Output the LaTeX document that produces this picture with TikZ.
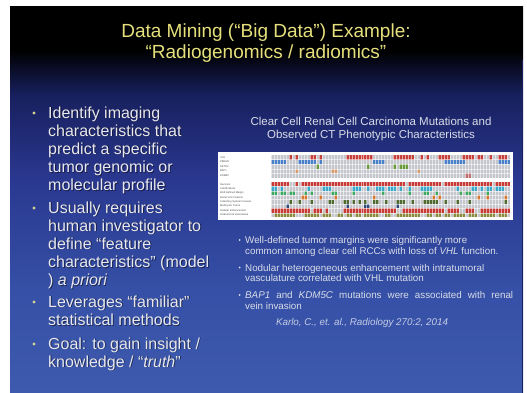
\documentclass[tikz,border=0pt]{standalone}
\usepackage{fontspec}
\setmainfont{Liberation Sans}

% slide background colours, top to bottom
\definecolor{bgA}{HTML}{000000}
\definecolor{bgB}{HTML}{18205E}
\definecolor{bgC}{HTML}{2A3890}
\definecolor{bgD}{HTML}{3550A6}
\definecolor{bgE}{HTML}{3E5AAE}
\definecolor{titlecol}{HTML}{E6E07C}
\definecolor{bodycol}{HTML}{E8E8EE}
\definecolor{smallcol}{HTML}{D8DCE8}
\definecolor{citecol}{HTML}{C4CCE6}
\definecolor{dotcol}{HTML}{D8D490}
% heat-map colours
\definecolor{cellgrey}{HTML}{C4C6CC}
\definecolor{mutred}{HTML}{C8403A}
\definecolor{mutblue}{HTML}{4A80C8}
\definecolor{mutgreen}{HTML}{6A9A3A}
\definecolor{mutorange}{HTML}{D89A6A}
\definecolor{mutrose}{HTML}{C07070}
\definecolor{featred}{HTML}{C83A36}
\definecolor{featteal}{HTML}{3AA8C8}
\definecolor{featgreen}{HTML}{3CA860}
\definecolor{featorange}{HTML}{D8782E}
\definecolor{featolive}{HTML}{4E6A2E}
\definecolor{featnavy}{HTML}{2E4A78}
\definecolor{featkhaki}{HTML}{8C8A3E}

\pgfdeclareverticalshading{slideshade}{100bp}{%
  color(0bp)=(bgE); color(25bp)=(bgE); color(38.3bp)=(bgD);
  color(52.6bp)=(bgC); color(63.6bp)=(bgB); color(69.4bp)=(bgA);
  color(75bp)=(bgA); color(100bp)=(bgA)}

% text with a soft drop shadow: name, position, style, text
\newcommand\shadowtext[4]{%
  \node[#3, text=black, opacity=.5] at ([shift={(0.9,0.9)}]#2) {#4};
  \node[#3] (#1) at (#2) {#4};}

\begin{document}
\begin{tikzpicture}[x=1pt,y=-1pt,
  titletext/.style={inner sep=0pt, anchor=base, text=titlecol,
    font=\fontsize{19}{22}\selectfont},
  bodytext/.style={inner sep=0pt, anchor=base west, text=bodycol,
    font=\fontsize{16}{18}\selectfont},
  headtext/.style={inner sep=0pt, anchor=base, text=smallcol,
    font=\fontsize{11.5}{13}\selectfont},
  smalltext/.style={inner sep=0pt, anchor=base west, text=smallcol,
    font=\fontsize{9.8}{11}\selectfont},
  citetext/.style={inner sep=0pt, anchor=base, text=citecol,
    font=\fontsize{9.8}{11}\selectfont\itshape},
  tablabel/.style={inner sep=0pt, anchor=west, text=black!70,
    font=\fontsize{2.6}{3}\selectfont},
  bigdot/.style={fill=dotcol},
  smalldot/.style={fill=smallcol},
  gridline/.style={draw=white, draw opacity=.55, line width=.25pt}]

\useasboundingbox (0,0) rectangle (527,393);
\fill[white] (0,0) rectangle (527,393);
\shade[shading=slideshade] (10,7) rectangle (523,393);
\fill[bgB] (521.5,60) rectangle (523,393);

% title
\shadowtext{title1}{266,38}{titletext}{Data Mining (“Big Data”) Example:}
\shadowtext{title2}{266,59}{titletext}{“Radiogenomics / radiomics”}

% left bullet list
\foreach \y in {113,208,302,344} \fill[bigdot] (34,\y) circle (1.6);
\shadowtext{l1}{48,118}{bodytext}{Identify imaging}
\shadowtext{l2}{48,136}{bodytext}{characteristics that}
\shadowtext{l3}{48,154}{bodytext}{predict a specific}
\shadowtext{l4}{48,172.3}{bodytext}{tumor genomic or}
\shadowtext{l5}{48,190.5}{bodytext}{molecular profile}
\shadowtext{l6}{48,213}{bodytext}{Usually requires}
\shadowtext{l7}{48,231}{bodytext}{human investigator to}
\shadowtext{l8}{48,249}{bodytext}{define “feature}
\shadowtext{l9}{48,267.2}{bodytext}{characteristics” (model}
\shadowtext{l10}{48,285.5}{bodytext}{) \textit{a priori}}
\shadowtext{l11}{48,307}{bodytext}{Leverages “familiar”}
\shadowtext{l12}{48,325.5}{bodytext}{statistical methods}
\shadowtext{l13}{48,349}{bodytext}{Goal: to gain insight /}
\shadowtext{l14}{48,367}{bodytext}{knowledge / “\textit{truth}”}

% heat-map caption
\node[headtext] (head1) at (371,125.5) {Clear Cell Renal Cell Carcinoma Mutations and};
\node[headtext] (head2) at (371,138.5) {Observed CT Phenotypic Characteristics};

% heat-map: mutations (upper block) and CT features (lower block)
\fill[white] (218,152) rectangle (513,220);
\fill[cellgrey] (271,155) rectangle (510,178);
\fill[cellgrey] (271,182) rectangle (510,217);
\pgfmathsetseed{4242}
\foreach \r/\cl/\p/\q in {0/mutred/22/72,1/mutblue/12/55,2/mutgreen/8/30,
                          3/mutorange/6/20,4/mutrose/5/20}{
  \gdef\prevcell{0}
  \foreach \c in {0,...,79}{
    \pgfmathrandominteger{\rnd}{1}{100}
    \ifnum\prevcell=1 \edef\thr{\q}\else\edef\thr{\p}\fi
    \ifnum\rnd<\thr\relax
      \fill[\cl] ({271+\c*2.9875},{155+\r*4.6}) rectangle ++(2.9875,4.6);
      \gdef\prevcell{1}
    \else\gdef\prevcell{0}\fi
  }
}
\foreach \r/\cl/\p/\q in {0/featred/70/95,1/featteal/20/40,2/featgreen/25/40,
                          3/featorange/12/30,4/featolive/25/40,5/featnavy/8/20,
                          6/featred/40/85,7/featkhaki/35/75}{
  \gdef\prevcell{0}
  \foreach \c in {0,...,79}{
    \pgfmathrandominteger{\rnd}{1}{100}
    \ifnum\prevcell=1 \edef\thr{\q}\else\edef\thr{\p}\fi
    \ifnum\rnd<\thr\relax
      \fill[\cl] ({271+\c*2.9875},{182+\r*4.375}) rectangle ++(2.9875,4.375);
      \gdef\prevcell{1}
    \else\gdef\prevcell{0}\fi
  }
}
\foreach \c in {0,...,80}
  \draw[gridline] ({271+\c*2.9875},155) -- ++(0,23) ({271+\c*2.9875},182) -- ++(0,35);
\foreach \r in {1,...,4} \draw[gridline] (271,{155+\r*4.6}) -- (510,{155+\r*4.6});
\foreach \r in {1,...,7} \draw[gridline] (271,{182+\r*4.375}) -- (510,{182+\r*4.375});
\foreach \lab [count=\i from 0] in {VHL,PBRM1,SETD2,BAP1,KDM5C}
  \node[tablabel] (mut\i) at (220,{155+(\i+0.5)*4.6}) {\lab};
\foreach \lab [count=\i from 0] in {Necrosis,Calcifications,Well-Defined Margin,
    Renal Vein Invasion,Collecting System Invasion,Multicystic Tumor,
    Nodular Enhancement,Intratumoral Vasculature}
  \node[tablabel] (feat\i) at (220,{182+(\i+0.5)*4.375}) {\lab};

% findings
\foreach \y in {240,267.5,295} \fill[smalldot] (239.5,\y) circle (1);
\node[smalltext] (f1) at (245,243.5) {Well-defined tumor margins were significantly more};
\node[smalltext] (f2) at (245,254.5) {common among clear cell RCCs with loss of \textit{VHL} function.};
\node[smalltext] (f3) at (245,271) {Nodular heterogeneous enhancement with intratumoral};
\node[smalltext] (f4) at (245,281.5) {vasculature correlated with VHL mutation};
\node[smalltext] (f5) at (245,298) {\makebox[268pt][s]{\textit{BAP1} and \textit{KDM5C} mutations were associated with renal}};
\node[smalltext] (f6) at (245,309) {vein invasion};
\node[citetext] (cite) at (362,325) {Karlo, C., et. al., Radiology 270:2, 2014};
\end{tikzpicture}
\end{document}
